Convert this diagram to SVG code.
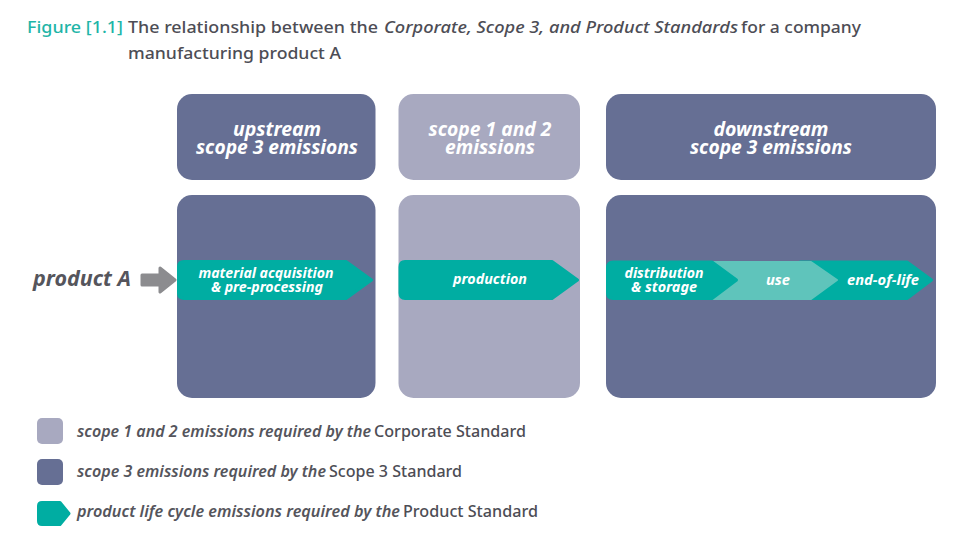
<svg xmlns="http://www.w3.org/2000/svg" width="964" height="545" viewBox="0 0 964 545">
<style>
text{font-family:"Noto Sans","Open Sans","DejaVu Sans",sans-serif}
.t{font-size:17px;font-weight:500;fill:#4d4d55}
.i{font-style:italic}
.h{font-size:19px;font-weight:700;font-style:italic;fill:#fff;text-anchor:middle}
.a{font-size:14px;font-weight:700;font-style:italic;fill:#fff;text-anchor:middle}
.l{font-size:16px;font-weight:600;font-style:italic;fill:#55555c}
.s{font-size:16px;font-weight:500;fill:#4d4d55}
.d{fill:#666f94}.m{fill:#a8a9c0}
.g{fill:#00ada2;stroke:#00ada2;stroke-width:3;stroke-linejoin:round}
.u{fill:#5fc4bb;stroke:#5fc4bb;stroke-width:2;stroke-linejoin:round}
</style>
<rect width="964" height="545" fill="#fff"/>
<g id="title">
<text x="27" y="33" class="t" style="fill:#1fb5a8" textLength="96" lengthAdjust="spacingAndGlyphs">Figure [1.1]</text>
<text x="128" y="33" class="t" textLength="250" lengthAdjust="spacingAndGlyphs">The relationship between the</text>
<text x="384" y="33" class="t i" textLength="354" lengthAdjust="spacingAndGlyphs">Corporate, Scope 3, and Product Standards</text>
<text x="741" y="33" class="t" textLength="120" lengthAdjust="spacingAndGlyphs">for a company</text>
<text x="128" y="59" class="t" textLength="213" lengthAdjust="spacingAndGlyphs">manufacturing product A</text>
</g>
<g id="head-upstream"><rect x="177" y="94" width="198.500" height="86" rx="15" class="d"/><text x="277" y="136" class="h" textLength="88" lengthAdjust="spacingAndGlyphs">upstream</text><text x="277" y="154" class="h" textLength="162" lengthAdjust="spacingAndGlyphs">scope 3 emissions</text></g>
<g id="head-scope12"><rect x="398.500" y="94" width="181.500" height="86" rx="15" class="m"/><text x="490" y="136" class="h" textLength="123" lengthAdjust="spacingAndGlyphs">scope 1 and 2</text><text x="490" y="154" class="h" textLength="90" lengthAdjust="spacingAndGlyphs">emissions</text></g>
<g id="head-downstream"><rect x="606" y="94" width="330" height="86" rx="15" class="d"/><text x="771" y="136" class="h" textLength="115" lengthAdjust="spacingAndGlyphs">downstream</text><text x="771" y="154" class="h" textLength="162" lengthAdjust="spacingAndGlyphs">scope 3 emissions</text></g>
<g id="body-upstream"><rect x="177" y="195" width="198.500" height="203" rx="15" class="d"/></g>
<g id="body-scope12"><rect x="398.500" y="195" width="181.500" height="203" rx="15" class="m"/></g>
<g id="body-downstream"><rect x="606" y="195" width="330" height="203" rx="15" class="d"/></g>
<g id="product-a"><text x="33" y="286" style="font-size:21px;font-weight:700;font-style:italic;fill:#55555c" textLength="98" lengthAdjust="spacingAndGlyphs">product A</text></g>
<g id="connectors"><path d="M142 275H160V268L175 280L160 292V285H142Z" fill="#8c8c8f" stroke="#8c8c8f" stroke-width="3" stroke-linejoin="round"/></g>
<g id="stage-material"><path d="M184 261.500H346L371.500 280L346 298.500H184Q178.500 298.500 178.500 293V267Q178.500 261.500 184 261.500Z" class="g"/><text x="266" y="278" class="a" textLength="135" lengthAdjust="spacingAndGlyphs">material acquisition</text><text x="267" y="292" class="a" textLength="112" lengthAdjust="spacingAndGlyphs">&amp; pre-processing</text></g>
<g id="stage-production"><path d="M405 261.500H552L577.500 280L552 298.500H405Q400 298.500 400 293V267Q400 261.500 405 261.500Z" class="g"/><text x="490" y="284" class="a" textLength="74" lengthAdjust="spacingAndGlyphs">production</text></g>
<g id="stage-end"><path d="M800 262H907L931.500 280L907 298.500H800Z" class="g"/><text x="883" y="285" class="a" textLength="72" lengthAdjust="spacingAndGlyphs">end-of-life</text></g>
<g id="stage-use"><path d="M700 262H811L837 280L811 299H700Z" class="u"/><text x="778" y="285" class="a" textLength="24" lengthAdjust="spacingAndGlyphs">use</text></g>
<g id="stage-distribution"><path d="M613 262H712L736.500 280L712 298.500H613Q607.500 298.500 607.500 293V268Q607.500 262 613 262Z" class="g"/><text x="664" y="278" class="a" textLength="79" lengthAdjust="spacingAndGlyphs">distribution</text><text x="664" y="292" class="a" textLength="66" lengthAdjust="spacingAndGlyphs">&amp; storage</text></g>
<g id="legend-scope12"><rect x="37" y="418" width="26" height="26" rx="5" class="m"/><text x="77" y="437" class="l" textLength="294" lengthAdjust="spacingAndGlyphs">scope 1 and 2 emissions required by the</text><text x="374" y="437" class="s" textLength="152" lengthAdjust="spacingAndGlyphs">Corporate Standard</text></g>
<g id="legend-scope3"><rect x="37" y="459" width="26" height="26" rx="5" class="d"/><text x="77" y="477" class="l" textLength="249" lengthAdjust="spacingAndGlyphs">scope 3 emissions required by the</text><text x="329" y="477" class="s" textLength="133" lengthAdjust="spacingAndGlyphs">Scope 3 Standard</text></g>
<g id="legend-product"><path d="M42 502.500H60L69 513.500L60 524.500H42Q38.500 524.500 38.500 521V506Q38.500 502.500 42 502.500Z" class="g"/><text x="77" y="517" class="l" textLength="323" lengthAdjust="spacingAndGlyphs">product life cycle emissions required by the</text><text x="403" y="517" class="s" textLength="135" lengthAdjust="spacingAndGlyphs">Product Standard</text></g>
</svg>
